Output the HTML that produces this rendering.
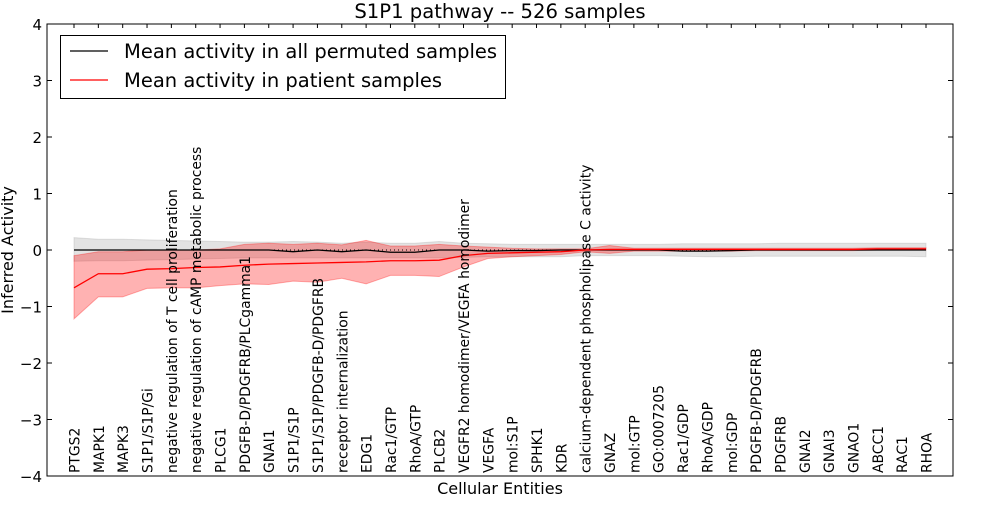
<!DOCTYPE html>
<html><head><meta charset="utf-8"><style>
body{margin:0;background:#fff;}
svg text{font-family:"DejaVu Sans","Liberation Sans",sans-serif;}
</style></head><body>
<svg id="chart" width="1000" height="500" xmlns="http://www.w3.org/2000/svg"></svg>
<script>
const categories=["PTGS2","MAPK1","MAPK3","S1P1/S1P/Gi","negative regulation of T cell proliferation","negative regulation of cAMP metabolic process","PLCG1","PDGFB-D/PDGFRB/PLCgamma1","GNAI1","S1P1/S1P","S1P1/S1P/PDGFB-D/PDGFRB","receptor internalization","EDG1","Rac1/GTP","RhoA/GTP","PLCB2","VEGFR2 homodimer/VEGFA homodimer","VEGFA","mol:S1P","SPHK1","KDR","calcium-dependent phospholipase C activity","GNAZ","mol:GTP","GO:0007205","Rac1/GDP","RhoA/GDP","mol:GDP","PDGFB-D/PDGFRB","PDGFRB","GNAI2","GNAI3","GNAO1","ABCC1","RAC1","RHOA"];
const patientMean=[-0.67,-0.42,-0.42,-0.34,-0.33,-0.31,-0.3,-0.27,-0.25,-0.24,-0.23,-0.22,-0.21,-0.19,-0.19,-0.18,-0.1,-0.06,-0.05,-0.04,-0.03,0,0.01,0.01,0.01,0.01,0.01,0.01,0.01,0.01,0.01,0.01,0.01,0.02,0.02,0.02];
const patientLow=[-1.22,-0.83,-0.83,-0.68,-0.67,-0.67,-0.63,-0.6,-0.61,-0.55,-0.57,-0.5,-0.6,-0.45,-0.45,-0.47,-0.3,-0.15,-0.12,-0.1,-0.08,-0.03,-0.06,-0.02,-0.02,-0.02,-0.02,-0.02,-0.01,-0.01,-0.01,-0.01,-0.01,0,0,0];
const patientHigh=[-0.1,-0.03,-0.03,0,0,0,0.02,0.1,0.12,0.1,0.12,0.09,0.17,0.07,0.07,0.1,0.07,0.05,0.03,0.02,0.02,0.02,0.08,0.03,0.03,0.03,0.03,0.03,0.03,0.03,0.03,0.03,0.03,0.04,0.04,0.04];
const permMean=[0,0,0,0,0,0,0,0,0,-0.03,0,-0.03,0,-0.04,-0.04,0,0,-0.02,-0.01,-0.01,0,0,0,0,0,-0.02,-0.02,-0.01,0,0,0,0,0,0,0,0];
const permLow=[-0.2,-0.19,-0.19,-0.18,-0.17,-0.16,-0.15,-0.14,-0.14,-0.14,-0.14,-0.14,-0.14,-0.14,-0.14,-0.14,-0.13,-0.12,-0.12,-0.12,-0.12,-0.1,-0.1,-0.1,-0.1,-0.11,-0.12,-0.12,-0.11,-0.11,-0.11,-0.11,-0.11,-0.11,-0.11,-0.12];
const permHigh=[0.22,0.19,0.19,0.18,0.17,0.16,0.15,0.14,0.14,0.15,0.14,0.12,0.14,0.12,0.12,0.15,0.12,0.11,0.1,0.1,0.1,0.1,0.1,0.1,0.1,0.11,0.11,0.11,0.11,0.12,0.12,0.12,0.12,0.12,0.12,0.12];
const yTicks=[-4,-3,-2,-1,0,1,2,3,4];

const NS="http://www.w3.org/2000/svg";
const svg=document.getElementById('chart');
const L=47,R=953,T=24,B=476;
const xs=i=>74+i*(926-74)/(categories.length-1);
const ys=v=>250-v*(B-T)/8;
function mk(tag,attrs,parent){const e=document.createElementNS(NS,tag);for(const k in attrs)e.setAttribute(k,attrs[k]);(parent||svg).appendChild(e);return e;}
function band(lo,hi,fill,op,name){
  let d='M'+lo.map((v,i)=>xs(i)+','+ys(hi[i])).join('L');
  for(let i=lo.length-1;i>=0;i--)d+='L'+xs(i)+','+ys(lo[i]);
  const p=mk('path',{d:d+'Z',fill:fill,'fill-opacity':op,stroke:fill,'stroke-opacity':op,'stroke-width':1});
  
  
}
function line(vals,color,name){
  const p=mk('polyline',{points:vals.map((v,i)=>xs(i)+','+ys(v)).join(' '),fill:'none',stroke:color,'stroke-width':1.3});
  
  
}
band(permLow,permHigh,'#999999',0.28,'permuted-band');
band(patientLow,patientHigh,'#ff0000',0.3,'patient-band');
const zl=mk('line',{x1:xs(0),x2:xs(categories.length-1),y1:ys(0),y2:ys(0),stroke:'#000','stroke-dasharray':'1,3','stroke-width':1});


line(permMean,'#000','permuted-mean-line');
line(patientMean,'#ff0000','patient-mean-line');

const fr=mk('rect',{x:L,y:T,width:R-L,height:B-T,fill:'none',stroke:'#000','stroke-width':1});


yTicks.forEach(v=>{
  const y=ys(v);
  mk('line',{x1:L,x2:L+5,y1:y,y2:y,stroke:'#000'});
  mk('line',{x1:R,x2:R-5,y1:y,y2:y,stroke:'#000'});
  const t=mk('text',{x:L-5,y:y+6,'text-anchor':'end','font-size':15});
  t.textContent=(v<0?'\u2212':'')+Math.abs(v);
  
  
});
categories.forEach((c,i)=>{
  const x=xs(i);
  mk('line',{x1:x,x2:x,y1:T,y2:T+4,stroke:'#000'});
  const t=mk('text',{x:0,y:0,'font-size':13.9,transform:'translate('+(x+5.5)+','+(B-3)+') rotate(-90)'});
  t.textContent=c;
  
  
});
const title=mk('text',{x:500,y:18,'text-anchor':'middle','font-size':19.6});
title.textContent='S1P1 pathway -- 526 samples';


const xl=mk('text',{x:500,y:494,'text-anchor':'middle','font-size':16});
xl.textContent='Cellular Entities';


const yl=mk('text',{x:0,y:0,'text-anchor':'middle','font-size':16,transform:'translate(13,250) rotate(-90)'});
yl.textContent='Inferred Activity';


const lg=mk('g',{});


mk('rect',{x:60.5,y:35.5,width:445,height:63,fill:'#fff',stroke:'#000'},lg);
[['#000','Mean activity in all permuted samples',51],['#ff0000','Mean activity in patient samples',80]].forEach(([c,s,y])=>{
  const g=mk('g',{},lg);
  
  
  mk('line',{x1:70,x2:108,y1:y,y2:y,stroke:c,'stroke-width':1.3},g);
  const t=mk('text',{x:124,y:y+7,'font-size':19.5},g);
  t.textContent=s;
});
</script>
</body></html>
